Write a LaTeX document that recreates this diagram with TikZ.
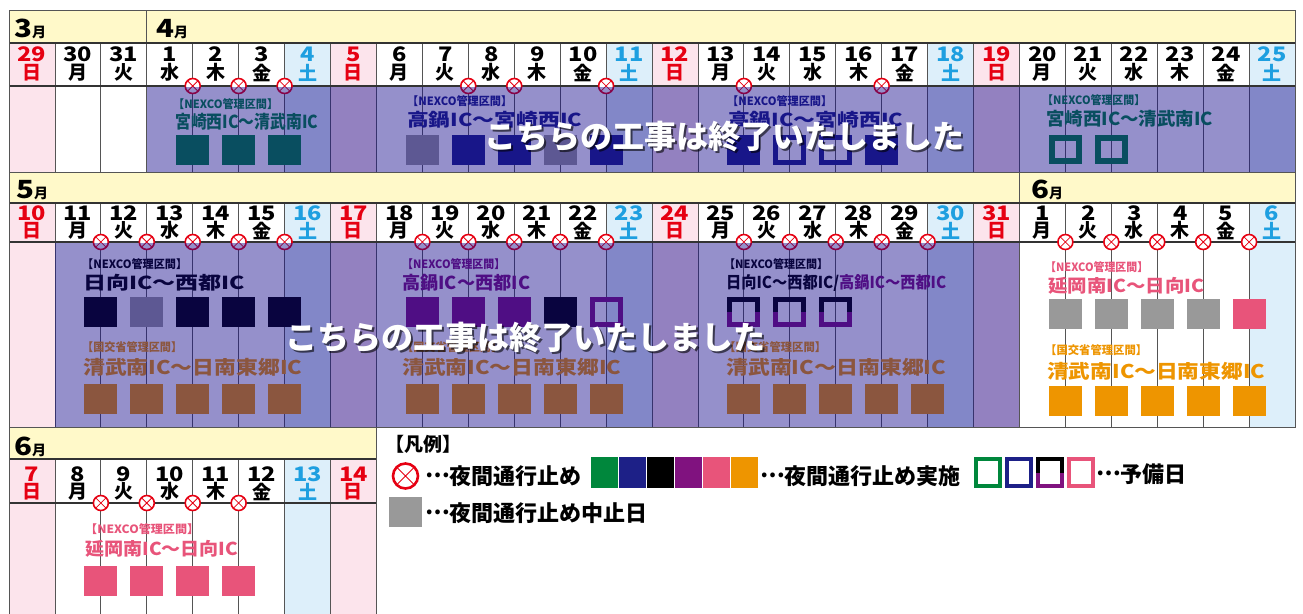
\documentclass[tikz,border=0pt]{standalone}
\usepackage{fontspec}
\usepackage{graphicx}
\setmainfont{Noto Sans CJK JP}
\newfontfamily\numf{Noto Sans CJK JP}[FakeStretch=1.18]
\definecolor{sunbg}{HTML}{FCE4EC}
\definecolor{satbg}{HTML}{DDEFFA}
\definecolor{sunfg}{HTML}{E60012}
\definecolor{satfg}{HTML}{1E9FE0}
\definecolor{monbg}{HTML}{FFF9C9}
\definecolor{cgreen}{HTML}{00873C}
\definecolor{cnavy}{HTML}{1D2087}
\definecolor{cpurple}{HTML}{80127F}
\definecolor{cpink}{HTML}{E8547A}
\definecolor{corange}{HTML}{EE9500}
\definecolor{cgray}{HTML}{999999}
\definecolor{mred}{HTML}{E60012}
\definecolor{ovl}{RGB}{20,10,140}
\definecolor{gridc}{HTML}{555555}
\newcommand\wdk[1]{\ifcase#1\relax 日\or 月\or 火\or 水\or 木\or 金\or 土\fi}
\newcommand\elp{\raisebox{0.33em}{…}}
\newcommand\rlab[7]{\node[anchor=west,inner sep=0,text=#6] (#1) at (#2,#3) {\resizebox*{#4pt}{#5pt}{\bfseries #7}};}
\newcommand\twosq[5]{%
  \draw[cpurple, line width=#5] ({#1-#3},#2) -- ({#1-#3},{#2+#4}) -- ({#1+#3},{#2+#4}) -- ({#1+#3},#2);
  \draw[black, line width=#5] ({#1-#3},#2) -- ({#1-#3},{#2-#4}) -- ({#1+#3},{#2-#4}) -- ({#1+#3},#2);}
\newcommand\mlab[4]{\node[anchor=base west,inner sep=0] (#1) at (#2,#3) {{\numf\bfseries\fontsize{25}{25}\selectfont #4}{\bfseries\fontsize{14}{14}\selectfont 月}};}
\begin{document}
\begin{tikzpicture}[x=1pt,y=-1pt,
  dnum/.style={inner sep=0, font=\numf\bfseries\fontsize{20}{20}\selectfont},
  dkan/.style={inner sep=0, font=\bfseries\fontsize{19}{19}\selectfont},
  xmark/.style={circle, draw=mred, fill=white, line width=1.6, minimum size=15, inner sep=0,
    path picture={\draw[mred,line width=0.8] (path picture bounding box.north west) -- (path picture bounding box.south east) (path picture bounding box.north east) -- (path picture bounding box.south west);}},
  fsq/.style={rectangle, inner sep=0, minimum width=33, minimum height=30},
  osq/.style={rectangle, inner sep=0, draw, line width=5, minimum width=28, minimum height=25},
  grid/.style={draw=gridc, line width=0.8},
  hline/.style={draw=black!80, line width=1.2},
  frame/.style={draw=gridc, line width=1},
  big/.style={inner sep=0, font=\bfseries\fontsize{32}{32}\selectfont},
  lgtxt/.style={inner sep=0, anchor=west, font=\bfseries\fontsize{22}{22}\selectfont}
]
\useasboundingbox (0,0) rectangle (1303,613);
\fill[white] (0,0) rectangle (1303,613);
% ---------- month headers
\fill[monbg] (9,10) rectangle (1295,43);
\fill[monbg] (9,172) rectangle (1295,203);
\fill[monbg] (9,427) rectangle ({9+45.93*8},459);
\mlab{m3}{14}{37}{3}
\mlab{m4}{156}{37}{4}
\mlab{m5}{16}{198}{5}
\mlab{m6a}{1031}{198}{6}
\mlab{m6b}{14}{455}{6}
% ---------- row 1 cells
\foreach \q in {0,...,27}{
  \pgfmathtruncatemacro\wn{mod(\q,7)}
  \pgfmathtruncatemacro\dn{\q<3 ? 29+\q : \q-2}
  \ifnum\wn=0 \def\bg{sunbg}\def\fg{sunfg}\else\ifnum\wn=6 \def\bg{satbg}\def\fg{satfg}\else\def\bg{white}\def\fg{black}\fi\fi
  \fill[\bg] ({9+45.93*\q},43) rectangle ({9+45.93*(\q+1)},172);
  \node[dnum,text=\fg] (ra\q) at ({9+45.93*(\q+0.5)},54) {\dn};
  \node[dkan,text=\fg] (rb\q) at ({9+45.93*(\q+0.5)},72.5) {\wdk{\wn}};
}
% ---------- row 2 cells
\foreach \q in {0,...,27}{
  \pgfmathtruncatemacro\wn{mod(\q,7)}
  \pgfmathtruncatemacro\dn{\q<22 ? 10+\q : \q-21}
  \ifnum\wn=0 \def\bg{sunbg}\def\fg{sunfg}\else\ifnum\wn=6 \def\bg{satbg}\def\fg{satfg}\else\def\bg{white}\def\fg{black}\fi\fi
  \fill[\bg] ({9+45.93*\q},203) rectangle ({9+45.93*(\q+1)},427);
  \node[dnum,text=\fg] (rc\q) at ({9+45.93*(\q+0.5)},213.5) {\dn};
  \node[dkan,text=\fg] (rd\q) at ({9+45.93*(\q+0.5)},230.5) {\wdk{\wn}};
}
% ---------- row 3 cells
\foreach \q in {0,...,7}{
  \pgfmathtruncatemacro\wn{mod(\q,7)}
  \pgfmathtruncatemacro\dn{7+\q}
  \ifnum\wn=0 \def\bg{sunbg}\def\fg{sunfg}\else\ifnum\wn=6 \def\bg{satbg}\def\fg{satfg}\else\def\bg{white}\def\fg{black}\fi\fi
  \fill[\bg] ({9+45.93*\q},459) rectangle ({9+45.93*(\q+1)},614);
  \node[dnum,text=\fg] (re\q) at ({9+45.93*(\q+0.5)},474.5) {\dn};
  \node[dkan,text=\fg] (rf\q) at ({9+45.93*(\q+0.5)},491.5) {\wdk{\wn}};
}
% ---------- grid lines
\draw[grid] foreach \i in {1,...,27}{({9+45.93*\i},43) -- ({9+45.93*\i},172)};
\draw[grid] ({9+45.93*3},10) -- ({9+45.93*3},43);
\draw[hline] (9,43) -- (1295,43) (9,86) -- (1295,86);
\draw[frame] (9,10) rectangle (1295,172);
\draw[grid] foreach \i in {1,...,27}{({9+45.93*\i},203) -- ({9+45.93*\i},427)};
\draw[grid] ({9+45.93*22},172) -- ({9+45.93*22},203);
\draw[hline] (9,203) -- (1295,203) (9,242) -- (1295,242);
\draw[frame] (9,172) rectangle (1295,427);
\draw[grid] foreach \i in {1,...,7}{({9+45.93*\i},459) -- ({9+45.93*\i},614)};
\draw[hline] (9,459) -- ({9+45.93*8},459) (9,503) -- ({9+45.93*8},503);
\draw[frame] (9,614) -- (9,427) -- ({9+45.93*8},427) -- ({9+45.93*8},614);
% ---------- labels
\rlab{la1}{173}{104}{105}{11}{cgreen}{【NEXCO管理区間】}
\rlab{la2}{175}{122}{143}{17}{cgreen}{宮崎西IC～清武南IC}
\rlab{lb1}{407}{101}{105}{11}{cnavy}{【NEXCO管理区間】}
\rlab{lb2}{407}{120}{175}{17}{cnavy}{高鍋IC～宮崎西IC}
\rlab{lc1}{727}{101}{105}{11}{cnavy}{【NEXCO管理区間】}
\rlab{lc2}{728}{120}{175}{17}{cnavy}{高鍋IC～宮崎西IC}
\rlab{ld1}{1042}{100}{103}{11}{cgreen}{【NEXCO管理区間】}
\rlab{ld2}{1046}{119}{167}{17}{cgreen}{宮崎西IC～清武南IC}
\rlab{le1}{82}{264}{105}{11}{black}{【NEXCO管理区間】}
\rlab{le2}{83}{283}{162}{17}{black}{日向IC～西都IC}
\rlab{le3}{82}{347}{100}{11}{corange}{【国交省管理区間】}
\rlab{le4}{83}{367}{219}{18}{corange}{清武南IC～日南東郷IC}
\rlab{lf1}{402}{264}{103}{11}{cpurple}{【NEXCO管理区間】}
\rlab{lf2}{402}{283}{128}{17}{cpurple}{高鍋IC～西都IC}
\rlab{lf3}{402}{347}{100}{11}{corange}{【国交省管理区間】}
\rlab{lf4}{402}{367}{219}{18}{corange}{清武南IC～日南東郷IC}
\rlab{lg1}{724}{264}{104}{11}{black}{【NEXCO管理区間】}
\rlab{lg2}{726}{283}{220}{17}{black}{日向IC～西都IC/\color{cpurple}高鍋IC～西都IC}
\rlab{lg3}{724}{347}{102}{11}{corange}{【国交省管理区間】}
\rlab{lg4}{726}{367}{220}{18}{corange}{清武南IC～日南東郷IC}
\rlab{lh1}{1045}{267}{103}{11}{cpink}{【NEXCO管理区間】}
\rlab{lh2}{1048}{286}{156}{17}{cpink}{延岡南IC～日向IC}
\rlab{lh3}{1045}{350}{102}{11}{corange}{【国交省管理区間】}
\rlab{lh4}{1047}{371}{218}{18}{corange}{清武南IC～日南東郷IC}
\rlab{li1}{85}{529}{114}{11}{cpink}{【NEXCO管理区間】}
\rlab{li2}{85}{549}{153}{17}{cpink}{延岡南IC～日向IC}
% ---------- squares row 1
\foreach \i in {4,5,6} \node[fsq,fill=cgreen] (sa\i) at ({9+45.93*\i},150) {};
\foreach \i/\cl in {9/cgray,10/cnavy,11/cnavy,12/cgray,13/cnavy} \node[fsq,fill=\cl] (sb\i) at ({9+45.93*\i},150) {};
\foreach \i in {16,19} \node[fsq,fill=cnavy] (sc\i) at ({9+45.93*\i},150) {};
\foreach \i in {17,18} \node[osq,draw=cnavy] (sc\i) at ({9+45.93*\i},150) {};
\foreach \i in {23,24} \node[osq,draw=cgreen,line width=6,minimum width=27,minimum height=23] (sd\i) at ({9+45.93*\i},149) {};
% ---------- squares row 2
\foreach \i/\cl in {2/black,3/cgray,4/black,5/black,6/black} \node[fsq,fill=\cl] (se\i) at ({9+45.93*\i},312) {};
\foreach \i/\cl in {9/cpurple,10/cpurple,11/cpurple,12/black} \node[fsq,fill=\cl] (sf\i) at ({9+45.93*\i},312) {};
\node[osq,draw=cpurple] (sf13) at ({9+45.93*13},312) {};
\foreach \i in {16,17,18}{\pgfmathsetmacro\cx{9+45.93*\i}\twosq{\cx}{312}{14}{12.5}{5}}
\foreach \i/\cl in {23/cgray,24/cgray,25/cgray,26/cgray,27/cpink} \node[fsq,fill=\cl] (sh\i) at ({9+45.93*\i},314) {};
\foreach \i in {2,3,4,5,6,9,10,11,12,13,16,17,18,19,20} \node[fsq,fill=corange] (so\i) at ({9+45.93*\i},398.5) {};
\foreach \i in {23,24,25,26,27} \node[fsq,fill=corange] (so\i) at ({9+45.93*\i},400.5) {};
% ---------- squares row 3
\foreach \i in {2,3,4,5} \node[fsq,fill=cpink] (si\i) at ({9+45.93*\i},581) {};
% ---------- closure marks
\foreach \i in {4,5,6,10,11,13,16,19} \node[xmark] (xa\i) at ({9+45.93*\i},86) {};
\foreach \i in {2,3,4,5,6,9,10,11,12,13,16,17,18,19,20,23,24,25,26,27} \node[xmark] (xb\i) at ({9+45.93*\i},242) {};
\foreach \i in {2,3,4,5} \node[xmark] (xc\i) at ({9+45.93*\i},503) {};
% ---------- overlays
\fill[ovl, opacity=.45] ({9+45.93*3},86.6) rectangle (1295,171.5);
\fill[ovl, opacity=.45] ({9+45.93*1},242.6) rectangle ({9+45.93*22},426.5);
% ---------- finished notices
\node[big,text=black,opacity=.6] (t1s) at (726,139) {こちらの工事は終了いたしました};
\node[big,text=white] (t1) at (724,137) {こちらの工事は終了いたしました};
\node[big,text=black,opacity=.6] (t2s) at (527,340) {こちらの工事は終了いたしました};
\node[big,text=white] (t2) at (525,338) {こちらの工事は終了いたしました};
% ---------- legend
\node[anchor=west,inner sep=0,font=\bfseries\fontsize{19}{19}\selectfont] (leg) at (385,444) {【凡例】};
\node[xmark, minimum size=25, line width=2.6] (legx) at (405.5,476) {};
\node[lgtxt] (leg1) at (425,476) {\elp 夜間通行止め};
\foreach \k/\cl in {0/cgreen,1/cnavy,2/black,3/cpurple,4/cpink,5/corange}
  \node[fsq,minimum width=27,minimum height=31,fill=\cl] (legc\k) at ({604.95+27.9*\k},472.5) {};
\node[lgtxt] (leg2) at (760,476) {\elp 夜間通行止め実施};
\node[osq,draw=cgreen,line width=4,minimum width=24,minimum height=27] (lego1) at (988,472.5) {};
\node[osq,draw=cnavy,line width=4,minimum width=24,minimum height=27] (lego2) at (1019,472.5) {};
\twosq{1049.5}{472.5}{12}{13.5}{4}
\node[osq,draw=cpink,line width=4,minimum width=24,minimum height=27] (lego4) at (1080.5,472.5) {};
\node[lgtxt] (leg3) at (1096,474) {\elp 予備日};
\node[fsq,fill=cgray] (legg) at (405.5,512) {};
\node[lgtxt] (leg4) at (425,513) {\elp 夜間通行止め中止日};
\end{tikzpicture}
\end{document}
